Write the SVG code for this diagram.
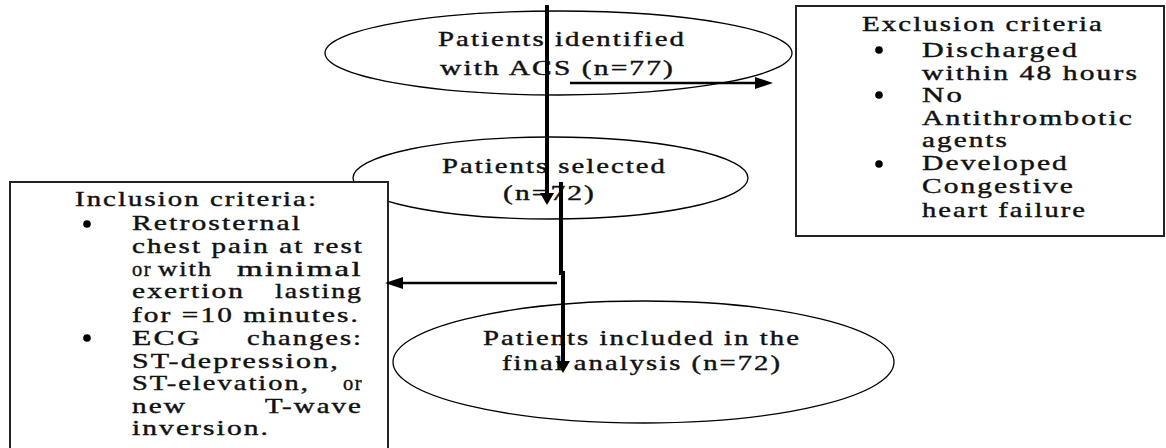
<svg xmlns="http://www.w3.org/2000/svg" width="1166" height="448" viewBox="0 0 1166 448">
<style>
.t{font-family:"Liberation Serif","Times New Roman",serif;font-size:21px;letter-spacing:1.5px;fill:#111;stroke:#111;stroke-width:0.4;}
.dot{fill:#000;}
.e{fill:#fff;stroke:#000;stroke-width:1.3;}
.box{fill:#fff;stroke:#222;stroke-width:2;}
.thick{fill:none;stroke:#000;stroke-width:4;}
.thin{fill:none;stroke:#000;stroke-width:2.5;}
</style>
<defs>
<marker id="ahV" markerUnits="userSpaceOnUse" markerWidth="12" markerHeight="14" refX="0" refY="7" orient="auto"><path d="M0,0 L12,7 L0,14 z" fill="#000"/></marker>
<marker id="ahH" markerUnits="userSpaceOnUse" markerWidth="18" markerHeight="12" refX="0" refY="6" orient="auto"><path d="M0,0 L18,6 L0,12 z" fill="#000"/></marker>
</defs>
<rect width="1166" height="448" fill="#fff"/>

<g id="node-identified">
<ellipse class="e" cx="558.5" cy="53" rx="233.5" ry="42"/>
<text class="t" x="438" y="46" textLength="248" lengthAdjust="spacingAndGlyphs">Patients identified</text>
<text class="t" x="440" y="75" textLength="235" lengthAdjust="spacingAndGlyphs">with ACS (n=77)</text>
</g>

<g id="node-selected">
<ellipse class="e" cx="550.5" cy="178" rx="197.5" ry="41"/>
<text class="t" x="442" y="173" textLength="225" lengthAdjust="spacingAndGlyphs">Patients selected</text>
<text class="t" x="503" y="200" textLength="93" lengthAdjust="spacingAndGlyphs">(n=72)</text>
</g>

<g id="node-final">
<ellipse class="e" cx="643.5" cy="362" rx="250.5" ry="61"/>
<text class="t" x="483" y="345" textLength="318" lengthAdjust="spacingAndGlyphs">Patients included in the</text>
<text class="t" x="502" y="370" textLength="280" lengthAdjust="spacingAndGlyphs">final analysis (n=72)</text>
</g>

<g id="node-exclusion">
<rect class="box" x="796" y="6" width="368" height="230"/>
<text class="t" x="862" y="31" textLength="242" lengthAdjust="spacingAndGlyphs">Exclusion criteria</text>
<circle class="dot" cx="879" cy="50" r="3.8"/>
<text class="t" x="922" y="57" textLength="157" lengthAdjust="spacingAndGlyphs">Discharged</text>
<text class="t" x="922" y="80" textLength="217" lengthAdjust="spacingAndGlyphs">within 48 hours</text>
<circle class="dot" cx="879" cy="95" r="3.8"/>
<text class="t" x="922" y="102" textLength="42" lengthAdjust="spacingAndGlyphs">No</text>
<text class="t" x="922" y="125" textLength="212" lengthAdjust="spacingAndGlyphs">Antithrombotic</text>
<text class="t" x="922" y="147" textLength="87" lengthAdjust="spacingAndGlyphs">agents</text>
<circle class="dot" cx="879" cy="164" r="3.8"/>
<text class="t" x="922" y="170" textLength="147" lengthAdjust="spacingAndGlyphs">Developed</text>
<text class="t" x="922" y="193" textLength="153" lengthAdjust="spacingAndGlyphs">Congestive</text>
<text class="t" x="922" y="217" textLength="165" lengthAdjust="spacingAndGlyphs">heart failure</text>
</g>

<g id="node-inclusion">
<rect class="box" x="10" y="182" width="378" height="280"/>
<text class="t" x="75" y="206" textLength="243" lengthAdjust="spacingAndGlyphs">Inclusion criteria:</text>
<circle class="dot" cx="87" cy="224" r="3.8"/>
<text class="t" x="132" y="230" textLength="170" lengthAdjust="spacingAndGlyphs">Retrosternal</text>
<text class="t" x="132" y="253" textLength="232" lengthAdjust="spacingAndGlyphs">chest pain at rest</text>
<text class="t" x="132" y="276" textLength="20" lengthAdjust="spacingAndGlyphs">or</text>
<text class="t" x="158" y="276" textLength="55" lengthAdjust="spacingAndGlyphs">with</text>
<text class="t" x="237" y="276" textLength="126" lengthAdjust="spacingAndGlyphs">minimal</text>
<text class="t" x="132" y="298" textLength="113" lengthAdjust="spacingAndGlyphs">exertion</text>
<text class="t" x="275" y="298" textLength="88" lengthAdjust="spacingAndGlyphs">lasting</text>
<text class="t" x="132" y="322" textLength="228" lengthAdjust="spacingAndGlyphs">for =10 minutes.</text>
<circle class="dot" cx="87" cy="338" r="3.8"/>
<text class="t" x="132" y="345" textLength="70" lengthAdjust="spacingAndGlyphs">ECG</text>
<text class="t" x="247" y="345" textLength="116" lengthAdjust="spacingAndGlyphs">changes:</text>
<text class="t" x="132" y="368" textLength="208" lengthAdjust="spacingAndGlyphs">ST-depression,</text>
<text class="t" x="132" y="390" textLength="178" lengthAdjust="spacingAndGlyphs">ST-elevation,</text>
<text class="t" x="343" y="390" textLength="20" lengthAdjust="spacingAndGlyphs">or</text>
<text class="t" x="132" y="413" textLength="55" lengthAdjust="spacingAndGlyphs">new</text>
<text class="t" x="265" y="413" textLength="98" lengthAdjust="spacingAndGlyphs">T-wave</text>
<text class="t" x="132" y="435" textLength="138" lengthAdjust="spacingAndGlyphs">inversion.</text>
</g>

<g id="connectors">
<line class="thick" x1="547" y1="5" x2="547" y2="193" marker-end="url(#ahV)"/>
<line class="thin" x1="570" y1="83" x2="755" y2="83" marker-end="url(#ahH)"/>
<polyline class="thick" points="561,182 561,273 563,273 563,361" marker-end="url(#ahV)"/>
<line class="thin" x1="557" y1="283" x2="403" y2="283" marker-end="url(#ahH)"/>
</g>
</svg>
